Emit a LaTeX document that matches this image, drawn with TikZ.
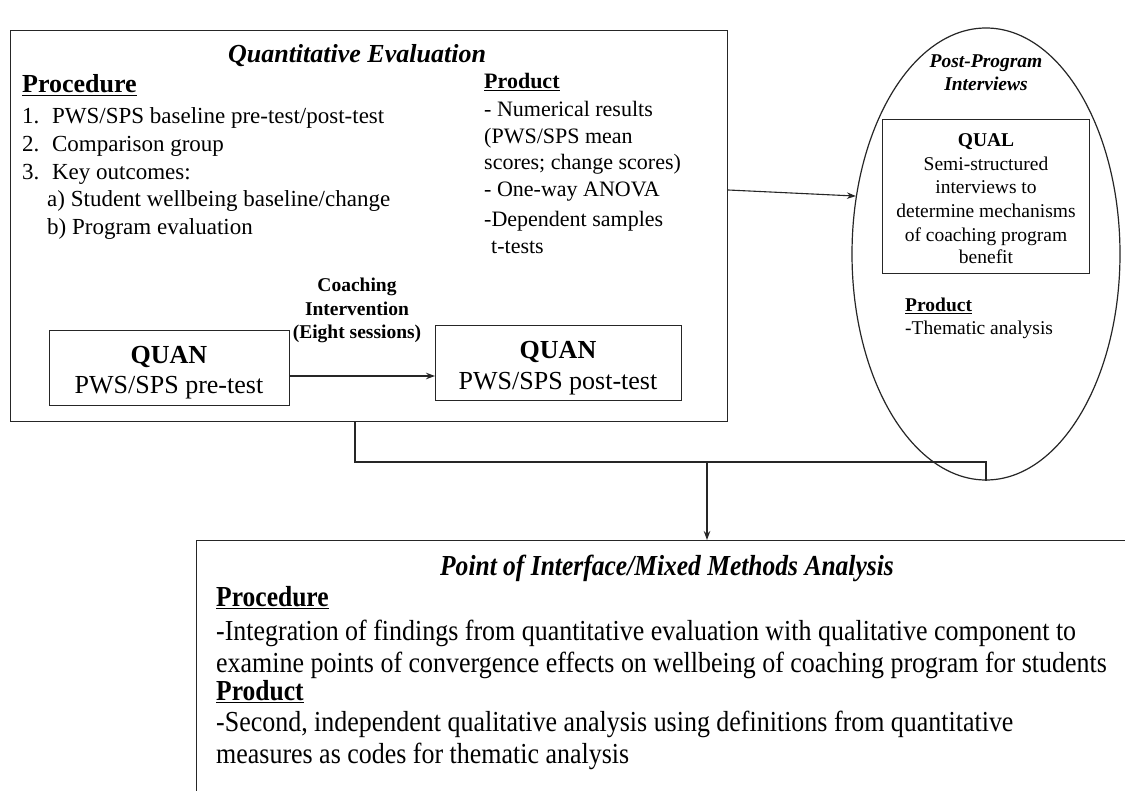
\documentclass[tikz,border=0pt]{standalone}
\usepackage{fontspec}
\setmainfont{Liberation Serif}
\newfontfamily\condserif[FakeStretch=0.88]{Liberation Serif}
\newfontfamily\condbody[FakeStretch=0.895]{Liberation Serif}
\usetikzlibrary{arrows.meta,shapes.geometric}
\newcommand\fsz[2]{\fontsize{#1}{#2}\selectfont}
\tikzset{
 box/.style={draw=black!85, line width=1.2pt, inner sep=0pt},
 txt/.style={inner sep=0pt, anchor=base west},
 ctxt/.style={inner sep=0pt, anchor=base},
 arr/.style={draw=black!85, -{Stealth[length=9pt,width=6.5pt]}, line width=1.1pt},
 ln/.style={draw=black!85, line width=1.1pt}
}
\begin{document}
\begin{tikzpicture}[x=1pt,y=-1pt]
\clip (0,0) rectangle (1125,791);
\fill[white] (0,0) rectangle (1125,791);
% main box
\node[box, minimum width=717pt, minimum height=391pt, anchor=north west] (main) at (10,30) {};
\node[ctxt] (qtitle) at (357,63) {\fsz{26}{30}\bfseries\itshape Quantitative Evaluation};
\node[txt] (proc) at (22,93) {\fsz{26}{30}\bfseries\underline{Procedure}};
\node[txt] (p1) at (22,124) {\fsz{23}{28}1.\hspace{0.55em}PWS/SPS baseline pre-test/post-test};
\node[txt] (p2) at (22,152) {\fsz{23}{28}2.\hspace{0.55em}Comparison group};
\node[txt] (p3) at (22,180) {\fsz{23}{28}3.\hspace{0.55em}Key outcomes:};
\node[txt] (p4) at (47,207) {\fsz{23}{28}a) Student wellbeing baseline/change};
\node[txt] (p5) at (47,235) {\fsz{23}{28}b) Program evaluation};
\node[txt] (prod) at (484,89) {\fsz{22}{28}\bfseries\underline{Product}};
\node[txt] (r1) at (484,117) {\fsz{22}{28}- Numerical results};
\node[txt] (r2) at (484,144) {\fsz{22}{28}(PWS/SPS mean};
\node[txt] (r3) at (484,170) {\fsz{22}{28}scores; change scores)};
\node[txt] (r4) at (484,197) {\fsz{22}{28}- One-way ANOVA};
\node[txt] (r5) at (484,227) {\fsz{22}{28}-Dependent samples};
\node[txt] (r6) at (491,254) {\fsz{22}{28}t-tests};
% QUAN boxes
\node[box, minimum width=240pt, minimum height=75pt, anchor=north west] (qpre) at (49,330) {};
\node[ctxt] (qpre1) at (169,364) {\fsz{26}{30}\bfseries QUAN};
\node[ctxt] (qpre2) at (169,394) {\fsz{26}{30}PWS/SPS pre-test};
\node[box, minimum width=246pt, minimum height=75pt, anchor=north west] (qpost) at (435,325) {};
\node[ctxt] (qpost1) at (558,359) {\fsz{26}{30}\bfseries QUAN};
\node[ctxt] (qpost2) at (558,390) {\fsz{26}{30}PWS/SPS post-test};
\node[ctxt] (coach1) at (357,292) {\fsz{19.5}{23}\bfseries Coaching};
\node[ctxt] (coach2) at (357,316) {\fsz{19.5}{23}\bfseries Intervention};
\node[ctxt] (coach3) at (357,339) {\fsz{19.5}{23}\bfseries (Eight sessions)};
\coordinate (ay) at (0,376);
\draw[arr] (qpre.east |- ay) -- (qpost.west |- ay);
% ellipse
\node[box, ellipse, minimum width=268pt, minimum height=452pt] (interv) at (986,254) {};
\node[ctxt] (it1) at (986,68) {\fsz{19.5}{23}\bfseries\itshape Post-Program};
\node[ctxt] (it2) at (986,91) {\fsz{19.5}{23}\bfseries\itshape Interviews};
\node[box, minimum width=207pt, minimum height=154pt, anchor=north west] (qual) at (882,119) {};
\node[ctxt] (ql1) at (986,147) {\fsz{19.5}{24}\bfseries QUAL};
\node[ctxt] (ql2) at (986,171) {\fsz{19.5}{24}Semi-structured};
\node[ctxt] (ql3) at (986,194) {\fsz{19.5}{24}interviews to};
\node[ctxt] (ql4) at (986,218) {\fsz{19.5}{24}determine mechanisms};
\node[ctxt] (ql5) at (986,242) {\fsz{19.5}{24}of coaching program};
\node[ctxt] (ql6) at (986,264) {\fsz{19.5}{24}benefit};
\node[txt] (ep1) at (905,312) {\fsz{19.5}{24}\bfseries\underline{Product}};
\node[txt] (ep2) at (905,335) {\fsz{19.5}{24}-Thematic analysis};
% connectors
\coordinate (c1) at (727,190);
\draw[arr] (main.east |- c1) -- (interv.156);
\coordinate (j1) at (355,462);
\coordinate (j2) at (707,462);
\draw[ln] (main.south -| j1) -- (j1) -- (j1 -| interv.south) -- (interv.south);
% bottom box
\node[box, minimum width=960pt, minimum height=300pt, anchor=north west] (bot) at (196,540) {};
\draw[arr] (j2) -- (j2 |- bot.north);
\node[ctxt] (bt) at (667,575) {\fsz{29}{32}\condserif\bfseries\itshape Point of Interface/Mixed Methods Analysis};
\node[txt] (b1) at (216,606) {\fsz{29}{32}\condserif\bfseries\underline{Procedure}};
\node[txt] (b2) at (216,640) {\fsz{29}{32}\condbody -Integration of findings from quantitative evaluation with qualitative component to};
\node[txt] (b3) at (216,672) {\fsz{29}{32}\condbody examine points of convergence effects on wellbeing of coaching program for students};
\node[txt] (b4) at (216,700) {\fsz{29}{32}\condserif\bfseries\underline{Product}};
\node[txt] (b5) at (216,731) {\fsz{29}{32}\condbody -Second, independent qualitative analysis using definitions from quantitative};
\node[txt] (b6) at (216,763) {\fsz{29}{32}\condbody measures as codes for thematic analysis};
\end{tikzpicture}
\end{document}
